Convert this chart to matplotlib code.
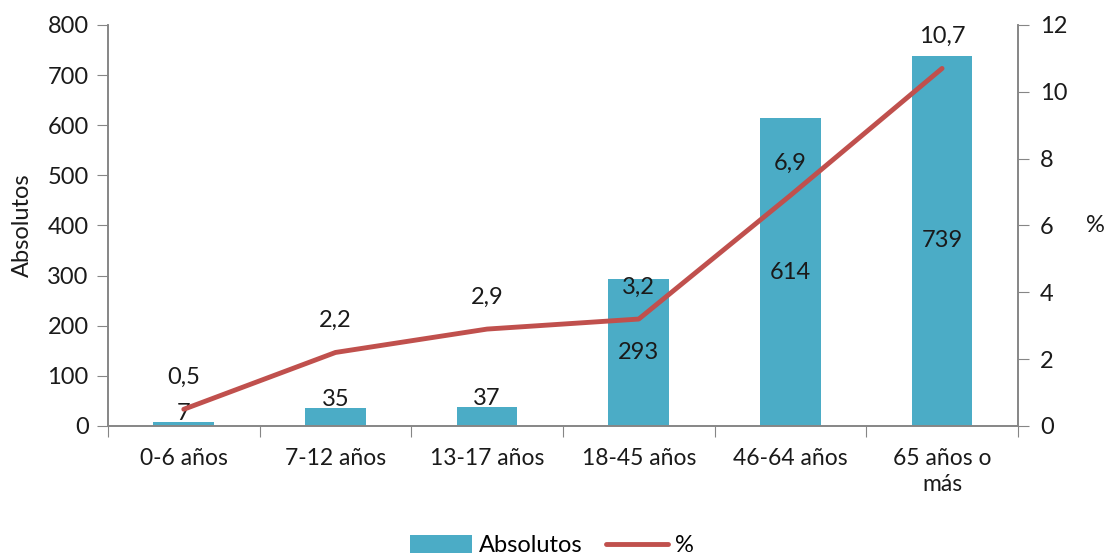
import numpy as np
import matplotlib
matplotlib.use("Agg")
import matplotlib.pyplot as plt

plt.rcParams['font.family'] = ['Lato', 'DejaVu Sans']

categorias = ['0-6 años', '7-12 años', '13-17 años', '18-45 años', '46-64 años', '65 años o\nmás']
absolutos = [7, 35, 37, 293, 614, 739]
porcentaje = [0.5, 2.2, 2.9, 3.2, 6.9, 10.7]

azul = '#4BACC6'
rojo = '#C0504D'
gris = '#868686'
texto = '#1a1a1a'
fs = 17

fig = plt.figure(figsize=(11.04, 5.58), dpi=100)
ax = fig.add_axes([0.0978, 0.2366, 0.8242, 0.7186])
ax2 = ax.twinx()

x = np.arange(len(categorias))
ax.bar(x, absolutos, width=0.4, color=azul, label='Absolutos', zorder=1)
ax2.plot(x, porcentaje, color=rojo, lw=3.5, label='%', solid_capstyle='round', zorder=3)

ax.set_xlim(-0.5, len(categorias) - 0.5)
ax.set_ylim(0, 800)
ax2.set_ylim(0, 12)
ax.set_yticks(np.arange(0, 801, 100))
ax2.set_yticks(np.arange(0, 13, 2))

# ticks de categoria en los limites, etiquetas en el centro
ax.set_xticks(np.arange(-0.5, len(categorias), 1))
ax.set_xticklabels([])
ax.set_xticks(x, minor=True)
ax.set_xticklabels(categorias, minor=True, fontsize=16.5, color=texto, linespacing=1.3)
ax.tick_params(axis='x', which='major', length=8, color=gris, direction='out')
ax.tick_params(axis='x', which='minor', length=0, pad=16)
ax.tick_params(axis='y', length=8, color=gris, labelsize=fs, labelcolor=texto, pad=6)
ax2.tick_params(axis='y', length=8, color=gris, labelsize=fs, labelcolor=texto, pad=8)

for a in (ax, ax2):
    a.spines['top'].set_visible(False)
    for s in ('left', 'right', 'bottom'):
        a.spines[s].set_color(gris)
        a.spines[s].set_linewidth(1.2)

ax.set_ylabel('Absolutos', fontsize=fs, color=texto, labelpad=10)
ax2.set_ylabel('%', fontsize=fs, color=texto, rotation=0, labelpad=20, va='center')

# etiquetas de las barras
for xi, v in zip(x, absolutos):
    if v < 100:
        ax.annotate(str(v), (xi, v), xytext=(0, -1), textcoords='offset points',
                    ha='center', va='bottom', fontsize=fs, color=texto, zorder=5)
    else:
        ax.text(xi, v / 2, str(v), ha='center', va='center', fontsize=fs, color=texto, zorder=5)

# etiquetas de la linea
for xi, p in zip(x, porcentaje):
    ax2.annotate(f'{p:.1f}'.replace('.', ','), (xi, p), xytext=(0, 23), textcoords='offset points',
                 ha='center', va='center', fontsize=fs, color=texto, zorder=5)

h1, l1 = ax.get_legend_handles_labels()
h2, l2 = ax2.get_legend_handles_labels()
fig.legend(h1 + h2, l1 + l2, loc='lower center', bbox_to_anchor=(0.5, -0.035), ncol=2,
           frameon=False, fontsize=fs, handlelength=2.6, handleheight=0.75, columnspacing=1.0,
           handletextpad=0.3)

fig.savefig('out.png', dpi=100)
